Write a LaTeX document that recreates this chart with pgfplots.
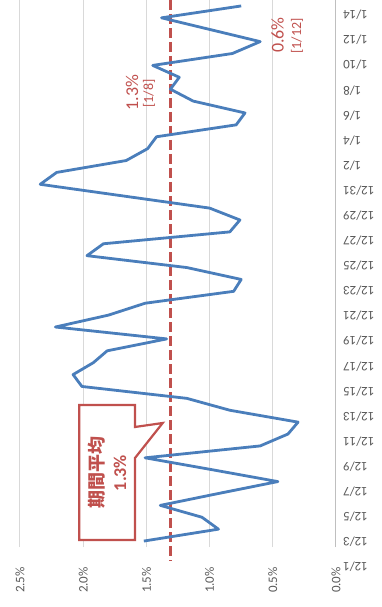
\documentclass[border=0pt]{standalone}
\usepackage{pgfplots}
\usepackage{pgfplotstable}
\pgfplotsset{compat=1.18}
\usepackage{fontspec}
\setmainfont{Carlito}
\newfontfamily\jp{Noto Sans CJK JP}
\definecolor{lineblue}{HTML}{4A7EBB}
\definecolor{avgred}{HTML}{C0504D}
\definecolor{gridgray}{HTML}{D9D9D9}
\definecolor{axgray}{HTML}{BFBFBF}
\definecolor{labgray}{HTML}{595959}
\pgfplotstableread{
idx val
0 1.52
1 0.93
2 1.06
3 1.39
4 0.93
5 0.46
6 0.98
7 1.51
8 0.60
9 0.38
10 0.30
11 0.84
12 1.18
13 2.01
14 2.08
15 1.92
16 1.81
17 1.34
18 2.22
19 1.80
20 1.51
21 0.81
22 0.75
23 1.18
24 1.97
25 1.84
26 0.84
27 0.76
28 1.00
29 1.67
30 2.34
31 2.21
32 1.66
33 1.49
34 1.42
35 0.79
36 0.72
37 1.13
38 1.31
39 1.24
40 1.45
41 0.82
42 0.60
43 0.99
44 1.38
45 0.75
}\ratedata
\begin{document}
\begin{tikzpicture}[x=1pt,y=1pt]
\path[use as bounding box] (0,0) rectangle (381,607);
\begin{axis}[
  at={(20pt,60pt)}, anchor=south west,
  width=316pt, height=547pt, scale only axis,
  x dir=reverse, xmin=0, xmax=2.5,
  ymin=-0.5, ymax=45.5,
  clip=false,
  axis x line*=bottom, x axis line style={draw=none},
  axis y line*=right, y axis line style={draw=axgray, line width=1pt},
  xmajorgrids, grid style={gridgray, line width=1pt},
  major tick length=0pt,
  xtick={0,0.5,1,1.5,2,2.5},
  xticklabels={0.0\%,0.5\%,1.0\%,1.5\%,2.0\%,2.5\%},
  xticklabel style={rotate=90, anchor=east, inner sep=0pt, font=\fontsize{13}{15}\selectfont, text=labgray},
  xticklabel shift=20pt,
  ytick=\empty,
]
\addplot[avgred, line width=3pt, dash pattern=on 10pt off 4pt] coordinates {(1.31,45.5) (1.31,-1.6)};
\addplot[lineblue, line width=2.8pt, line join=round] table[x=val, y=idx] {\ratedata};
\end{axis}
% date labels (category axis), placed as in the reference
\begin{axis}[
  at={(20pt,27pt)}, anchor=south west,
  width=316pt, height=580pt, scale only axis,
  xmin=0, xmax=2.5, ymin=-0.518, ymax=22.598,
  hide x axis,
  axis y line*=right, y axis line style={draw=none},
  major tick length=0pt,
  ytick={0,1,...,22},
  yticklabels={12/1,12/3,12/5,12/7,12/9,12/11,12/13,12/15,12/17,12/19,12/21,12/23,12/25,12/27,12/29,12/31,1/2,1/4,1/6,1/8,1/10,1/12,1/14},
  yticklabel pos=right,
  yticklabel style={rotate=180, anchor=east, inner sep=0pt, font=\fontsize{13}{15}\selectfont, text=labgray},
  yticklabel shift=7pt,
]
\end{axis}
% callout
\draw[avgred, line width=2.2pt, fill=white, line join=miter]
  (79.3,202) -- (135,202) -- (135,180) -- (162.7,184) -- (135,149) -- (135,67) -- (79.3,67) -- cycle;
\node[rotate=90, align=center, text=avgred, font=\fontsize{18}{23}\selectfont\bfseries] at (107,134) {{\jp 期間平均}\\1.3\%};
% data labels
\node[rotate=90, text=avgred, font=\fontsize{18}{20}\selectfont, inner sep=0pt] at (277.5,572) {0.6\%};
\node[rotate=90, text=avgred, font=\fontsize{14}{16}\selectfont, inner sep=0pt] at (297,571) {[1/12]};
\node[rotate=90, text=avgred, font=\fontsize{18}{20}\selectfont, inner sep=0pt] at (132,514.5) {1.3\%};
\node[rotate=90, text=avgred, font=\fontsize{14}{16}\selectfont, inner sep=0pt] at (149,513.5) {[1/8]};
\end{tikzpicture}
\end{document}
